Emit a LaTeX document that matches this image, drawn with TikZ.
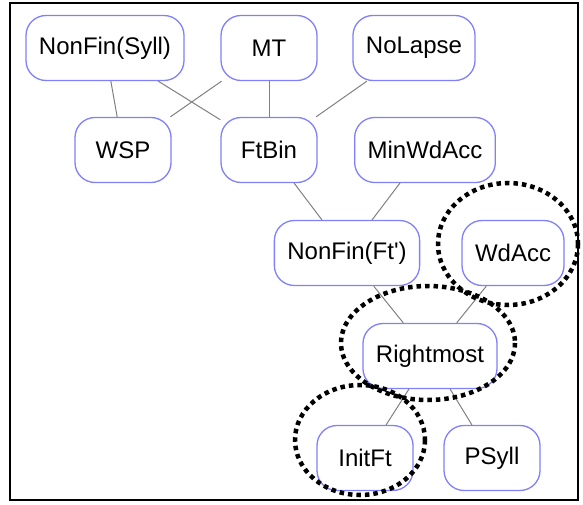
\documentclass[tikz,border=0pt]{standalone}
\usepackage{fontspec}
\setmainfont{Liberation Sans}
\definecolor{conblue}{RGB}{128,128,250}
\begin{document}
\begin{tikzpicture}[
    x=1pt, y=-1pt,
    con/.style={rectangle, rounded corners=20pt, draw=conblue, line width=1.3pt, minimum width=96pt, minimum height=65pt, inner xsep=13pt, align=center, font=\fontsize{24}{28}\selectfont},
    link/.style={draw=gray, line width=1pt},
    ring/.style={draw=black, line width=4.5pt, dash pattern=on 4.5pt off 4pt}
]
\useasboundingbox (0,0) rectangle (583,505);
\draw[line width=2pt] (10,3) rectangle (578,500);

\node[con] (nfsyll) at (105,48) {NonFin(Syll)};
\node[con] (mt) at (269,48) {MT};
\node[con] (nolapse) at (414,48) {NoLapse};
\node[con] (wsp) at (123,150) {WSP};
\node[con] (ftbin) at (269,150) {FtBin};
\node[con] (minwd) at (425,150) {MinWdAcc};
\node[con] (nfft) at (347,253) {NonFin(Ft\textquotesingle)};
\node[con] (wdacc) at (513,253) {WdAcc};
\node[con] (right) at (430,356) {Rightmost};
\node[con] (initft) at (365,458) {InitFt};
\node[con] (psyll) at (492,458) {PSyll};

\draw[link] (nfsyll) -- (wsp);
\draw[link] (nfsyll) -- (ftbin);
\draw[link] (mt) -- (wsp);
\draw[link] (mt) -- (ftbin);
\draw[link] (nolapse) -- (ftbin);
\draw[link] (ftbin) -- (nfft);
\draw[link] (minwd) -- (nfft);
\draw[link] (nfft) -- (right);
\draw[link] (wdacc) -- (right);
\draw[link] (right) -- (initft);
\draw[link] (right) -- (psyll);

% dotted rings
\draw[ring] (508,244) ellipse [x radius=70, y radius=61];
\draw[ring] (428,343) ellipse [x radius=87, y radius=57];
\draw[ring] (360,440) ellipse [x radius=65, y radius=55];

\end{tikzpicture}
\end{document}
